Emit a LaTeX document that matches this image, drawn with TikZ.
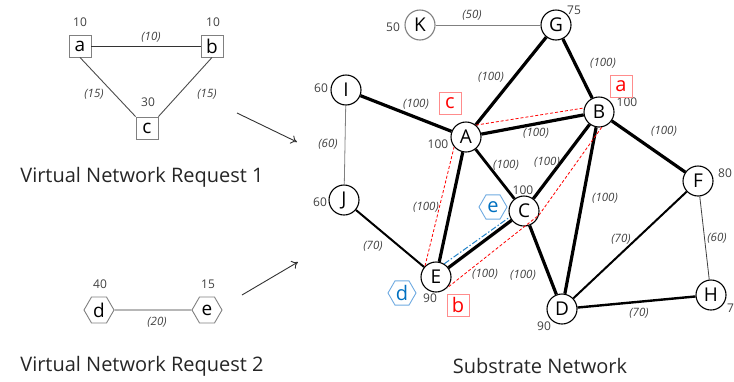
\documentclass[tikz,border=0pt]{standalone}
\usepackage{fontspec}
\setmainfont{Open Sans}
\usetikzlibrary{shapes.geometric,arrows.meta}
\definecolor{lbl}{RGB}{64,64,64}
\definecolor{vgray}{RGB}{128,128,128}
\definecolor{mred}{RGB}{255,0,0}
\definecolor{pinkb}{RGB}{255,140,140}
\definecolor{mblue}{RGB}{0,112,192}
\definecolor{lblue}{RGB}{110,170,225}
\begin{document}
\begin{tikzpicture}[x=1pt,y=-1pt,
  sn/.style={circle,draw=black,line width=1.1pt,minimum size=30pt,inner sep=0pt,fill=white,font=\fontsize{19}{22}\selectfont},
  vbox/.style={rectangle,draw=vgray,line width=0.9pt,minimum size=22pt,inner sep=0pt,fill=white,font=\fontsize{19}{22}\selectfont},
  vhex/.style={regular polygon,regular polygon sides=6,draw=vgray,line width=0.9pt,minimum size=30pt,inner sep=0pt,fill=white,font=\fontsize{19}{22}\selectfont},
  rbox/.style={rectangle,draw=pinkb,line width=0.9pt,minimum size=22pt,inner sep=0pt,text=mred,font=\fontsize{20}{22}\selectfont},
  bhex/.style={regular polygon,regular polygon sides=6,draw=lblue,line width=0.9pt,minimum size=28pt,inner sep=0pt,text=mblue,font=\fontsize{20}{22}\selectfont},
  wl/.style={font=\fontsize{11.5}{14}\selectfont\itshape,text=lbl,inner sep=0pt},
  nl/.style={font=\fontsize{12}{14}\selectfont,text=lbl,inner sep=0pt},
  ttl/.style={font=\fontsize{20}{24}\selectfont,text=black!85,inner sep=0pt},
  thk/.style={line width=3.2pt},
  med/.style={line width=2pt},
  thn/.style={line width=0.8pt,draw=vgray},
  rdash/.style={draw=mred,line width=0.8pt,dash pattern=on 3pt off 2pt},
  bdash/.style={draw=mblue!85,line width=1pt,dash pattern=on 6pt off 2pt on 1.5pt off 2pt},
  arr/.style={line width=0.9pt,draw=black!80,-{To[length=6pt,width=9pt]}}
]
\useasboundingbox (0,0) rectangle (734,381);

% ---------- Virtual Network Request 1
\node[vbox] (va) at (80,46) {a};
\node[vbox] (vb) at (212,46) {b};
\node[vbox] (vc) at (147,128) {c};
\draw[line width=0.9pt,draw=black!80] (va) -- (vb);
\draw[line width=0.9pt,draw=black!70] (va.south) -- (vc.north west);
\draw[line width=0.9pt,draw=black!70] (vb.south) -- (vc.north east);
\node[nl] (na) at (80,22) {10};
\node[nl] (nb) at (213,22) {10};
\node[nl] (nc) at (148,102) {30};
\node[wl] (wab) at (151,37) {(10)};
\node[wl] (wac) at (94,94) {(15)};
\node[wl] (wbc) at (207,94) {(15)};
\node[ttl] (t1) at (142,177) {Virtual Network Request 1};

% ---------- Virtual Network Request 2
\node[vhex] (vd) at (99,310) {d};
\node[vhex] (ve) at (207,310) {e};
\draw[line width=0.9pt,draw=black!80] (vd) -- (ve);
\node[nl] (nd) at (100,284) {40};
\node[nl] (ne) at (208,284) {15};
\node[wl] (wde) at (157,322) {(20)};
\node[ttl] (t2) at (142,366) {Virtual Network Request 2};

% ---------- arrows
\coordinate (a1s) at (237,113);
\coordinate (a1e) at (297,142);
\coordinate (a2s) at (242,295);
\coordinate (a2e) at (298,262);
\draw[arr] (a1s) -- (a1e);
\draw[arr] (a2s) -- (a2e);

% ---------- Substrate network nodes
\node[sn,draw=vgray] (K) at (420,25) {K};
\node[sn] (G) at (556,25) {G};
\node[sn] (I) at (346,90) {I};
\node[sn] (A) at (466,137) {A};
\node[sn] (B) at (599,112) {B};
\node[sn] (C) at (524,211) {C};
\node[sn] (J) at (344,200) {J};
\node[sn] (E) at (436,277) {E};
\node[sn] (D) at (562,309) {D};
\node[sn] (F) at (698,181) {F};
\node[sn] (H) at (711,295) {H};

% edges
\draw[thn] (K) -- (G);
\draw[thk] (G) -- (A);
\draw[thk] (G) -- (B);
\draw[thk] (I) -- (A);
\draw[thn] (I) -- (J);
\draw[thk] (A) -- (B);
\draw[line width=2.8pt] (A) -- (C);
\draw[thk] (A) -- (E);
\draw[thk] (B) -- (C);
\draw[thk] (B) -- (D);
\draw[thk] (B) -- (F);
\draw[thk] (C) -- (E);
\draw[thk] (C) -- (D);
\draw[med] (J) -- (E);
\draw[med] (D) -- (F);
\draw[line width=2.4pt] (D) -- (H);
\draw[line width=0.8pt,draw=black!75] (F) -- (H);

% mapping lines
\draw[rdash] (A.50) -- (B.165);
\draw[rdash] (B.-80) -- (C.-15) -- (E.-45);
\draw[rdash] (E.135) -- (A.-140);
\draw[bdash] (E.58) -- (C.203);

% node capacities
\node[nl] (nK) at (393,27) {50};
\node[nl] (nG) at (574,10) {75};
\node[nl] (nI) at (321,88) {60};
\node[nl] (nA) at (438,144) {100};
\node[nl] (nB) at (627,102) {100};
\node[nl] (nC) at (523,190) {100};
\node[nl] (nJ) at (320,202) {60};
\node[nl] (nE) at (430,298) {90};
\node[nl] (nD) at (544,326) {90};
\node[nl] (nF) at (725,173) {80};
\node[nl,anchor=west] (nH) at (727,308) {7};

% link weights
\node[wl] (wKG) at (472,15) {(50)};
\node[wl] (wGA) at (491,77) {(100)};
\node[wl] (wGB) at (603,63) {(100)};
\node[wl] (wIA) at (416,104) {(100)};
\node[wl] (wIJ) at (328,144) {(60)};
\node[wl] (wAB) at (536,133) {(100)};
\node[wl] (wAC) at (506,165) {(100)};
\node[wl] (wBC) at (547,162) {(100)};
\node[wl] (wAE) at (426,207) {(100)};
\node[wl] (wBD) at (605,198) {(100)};
\node[wl] (wBF) at (664,131) {(100)};
\node[wl] (wJE) at (373,246) {(70)};
\node[wl] (wCE) at (485,274) {(100)};
\node[wl] (wCD) at (523,275) {(100)};
\node[wl] (wDF) at (621,239) {(70)};
\node[wl] (wFH) at (717,238) {(60)};
\node[wl] (wDH) at (639,313) {(70)};

% mapping markers
\node[rbox] (ma) at (621,86) {a};
\node[rbox] (mc) at (450,103) {c};
\node[rbox] (mb) at (458,305) {b};
\node[bhex] (me) at (493,207) {e};
\node[bhex] (md) at (402,293) {d};

\node[ttl] (t3) at (540,366) {Substrate Network};
\end{tikzpicture}
\end{document}
